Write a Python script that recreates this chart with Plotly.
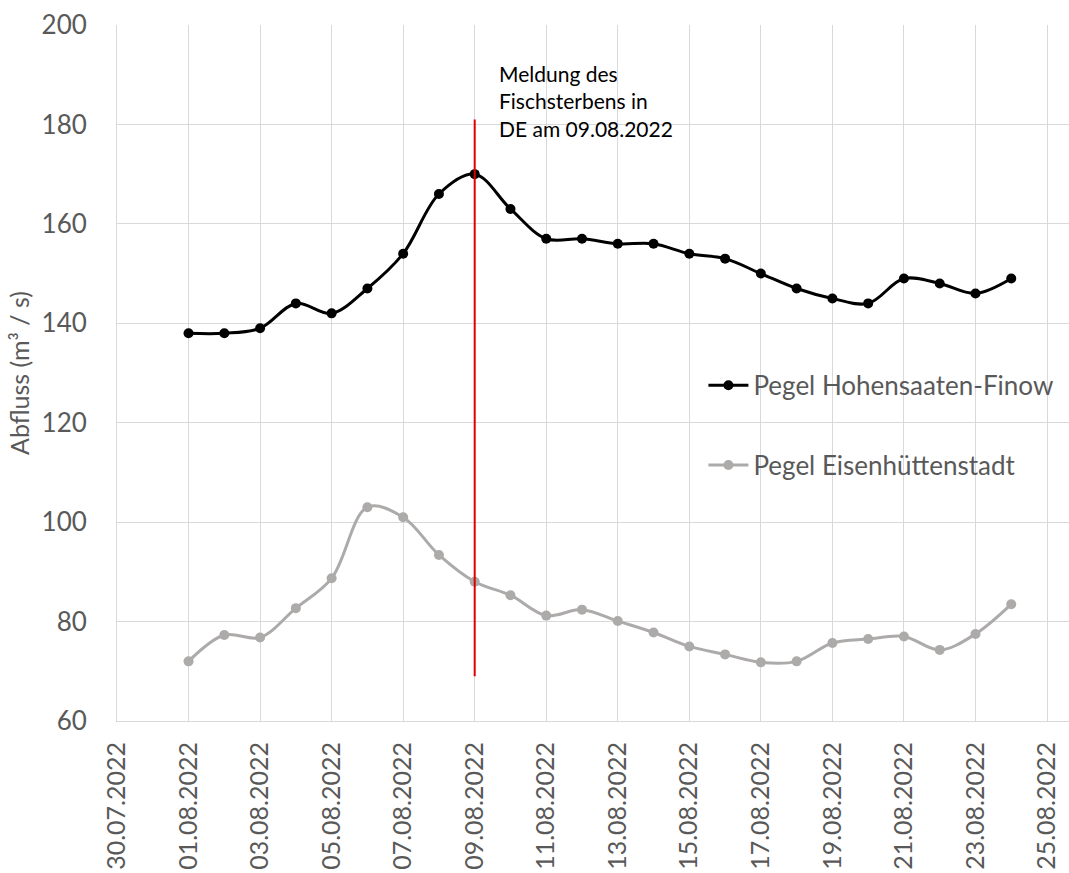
import plotly.graph_objects as go

dates = ["2022-08-%02d" % d for d in range(1, 25)]
hohensaaten = [138, 138, 139, 144, 142, 147, 154, 166, 170, 163, 157, 157,
               156, 156, 154, 153, 150, 147, 145, 144, 149, 148, 146, 149]
eisenhuettenstadt = [72, 77.3, 76.8, 82.7, 88.7, 103, 101, 93.4, 88, 85.3, 81.2, 82.4,
                     80.1, 77.8, 75, 73.4, 71.8, 72, 75.7, 76.5, 77, 74.3, 77.5, 83.5]
event_date = "2022-08-09"
event_y = [69, 181]
event_text = "Meldung des<br>Fischsterbens in<br>DE am 09.08.2022"

FONT = "Lato, Carlito, Calibri, sans-serif"
TXT = "#595959"

fig = go.Figure()
fig.add_trace(go.Scatter(
    x=dates, y=hohensaaten, name="Pegel Hohensaaten-Finow",
    mode="lines+markers", line=dict(color="#000000", width=3, shape="spline", smoothing=1),
    marker=dict(size=10, color="#000000"), legendgroup="a"))
fig.add_trace(go.Scatter(
    x=dates, y=eisenhuettenstadt, name="Pegel Eisenhüttenstadt",
    mode="lines+markers", line=dict(color="#ADAAAA", width=3, shape="spline", smoothing=1),
    marker=dict(size=10, color="#ADAAAA"), legendgroup="b"))

fig.add_shape(type="line", x0=event_date, x1=event_date, y0=event_y[0], y1=event_y[1],
              xref="x", yref="y", line=dict(color="#E00000", width=2))
fig.add_annotation(x=event_date, y=event_y[1] + 16, xref="x", yref="y", text=event_text,
                   showarrow=False, xanchor="left", yanchor="top", align="left", xshift=22,
                   yshift=-19,
                   font=dict(family=FONT, size=21, color="#000000"))

fig.update_layout(
    width=1069, height=873,
    margin=dict(l=117, r=0, t=25, b=152),
    paper_bgcolor="white", plot_bgcolor="white",
    font=dict(family=FONT, color=TXT),
    showlegend=True,
    legend=dict(x=0.616, y=0.516, xanchor="left", yanchor="top",
                font=dict(size=26, color=TXT), tracegroupgap=43,
                bgcolor="rgba(0,0,0,0)", itemwidth=40),
    xaxis=dict(type="date", range=["2022-07-30", "2022-08-25 14:45"], automargin=False,
               tick0="2022-07-30", dtick=2 * 86400000, tickformat="%d.%m.%Y",
               tickangle=-90, tickfont=dict(size=25, color=TXT),
               showgrid=True, gridcolor="#D9D9D9", gridwidth=1,
               showline=True, linecolor="#D9D9D9", linewidth=1, zeroline=False,
               ticks="", ticklabelstandoff=10),
    yaxis=dict(range=[60, 200], dtick=20, tickfont=dict(size=26, color=TXT), automargin=False,
               showgrid=True, gridcolor="#D9D9D9", gridwidth=1,
               showline=True, linecolor="#D9D9D9", linewidth=1, zeroline=False,
               ticks="", ticklabelstandoff=24,
               title=dict(text="Abfluss (m³ / s)", font=dict(size=25, color=TXT), standoff=4)),
)

fig.write_html("out.html", config={"displayModeBar": False},
               post_script="document.body.style.margin='0';")
